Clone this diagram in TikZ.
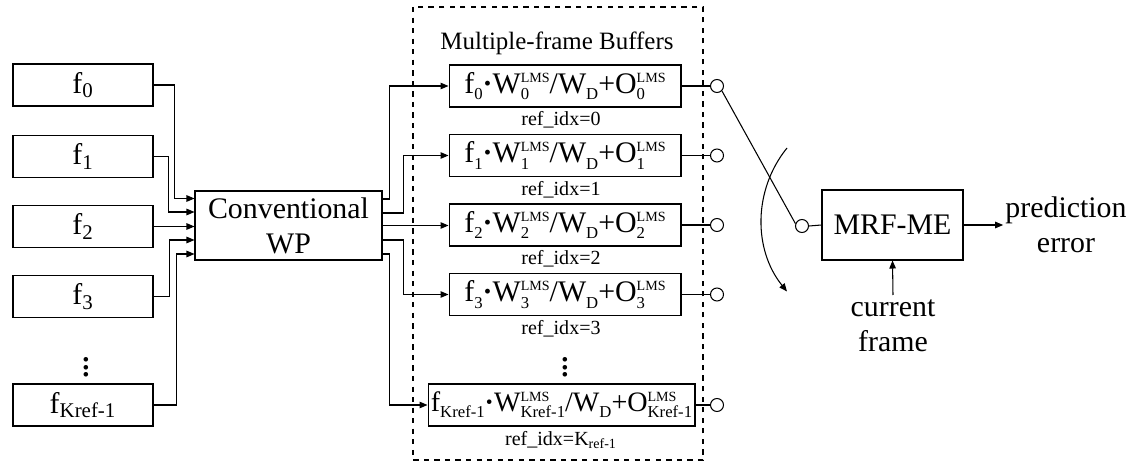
\documentclass[tikz,border=0pt]{standalone}
\usepackage{fontspec}
\setmainfont{Liberation Serif}
\usetikzlibrary{arrows.meta,calc}

% small sub/sup for the buffer formulas
\newcommand\sbs[1]{\raisebox{-0.22em}{\fontsize{9.5}{10}\selectfont #1}}
\newcommand\sps[1]{\raisebox{0.36em}{\fontsize{8}{8}\selectfont #1}}
% stacked sup over sub
\newcommand\supsub[2]{{\setbox0\hbox{\sps{#1}}\setbox2\hbox{\sbs{#2}}%
  \ifdim\wd0>\wd2 \rlap{\box2}\box0\else\rlap{\box0}\box2\fi}}
\newcommand\lms[1]{\supsub{LMS}{#1}}

\begin{document}
\begin{tikzpicture}[x=0.02cm,y=-0.02cm,line width=0.6pt,>={Triangle[length=1.6mm,width=1.3mm]},
  blk/.style={draw,inner sep=0pt,minimum height=0.84cm,font=\fontsize{17}{20}\selectfont},
  fbox/.style={blk,minimum width=2.8cm},
  bufbox/.style={blk,minimum width=4.64cm},
  lbl/.style={font=\fontsize{11.4}{13}\selectfont,inner sep=0pt},
  port/.style={draw,circle,inner sep=0pt,minimum size=0.26cm},
  dots/.style={font=\fontsize{22}{22}\selectfont,inner sep=0pt},
  txt/.style={align=center,font=\fontsize{17}{20}\selectfont}]
  \useasboundingbox (0,0) rectangle (1146,462);

  % input frames
  \node[fbox] (f0) at (83,85) {f\textsubscript{0}};
  \node[fbox] (f1) at (83,156.5) {f\textsubscript{1}};
  \node[fbox] (f2) at (83,226.5) {f\textsubscript{2}};
  \node[fbox] (f3) at (83,296.5) {f\textsubscript{3}};
  \node[dots] (fdots) at (86,362) {$\vdots$};
  \node[fbox] (fK) at (83,405) {f\textsubscript{Kref-1}};

  \node[blk,txt,minimum width=3.74cm,minimum height=1.38cm] (wp) at (288.5,225.5) {Conventional\\WP};

  \draw[->] (f0.east) -- ++(21,0) |- ($(wp.west)+(0,-27)$);
  \draw[->] (f1.east) -- ++(15,0) |- ($(wp.west)+(0,-13.5)$);
  \draw[->] (f2.east) -- (f2.east -| wp.west);
  \draw[->] (f3.east) -- ++(16,0) |- ($(wp.west)+(0,14.5)$);
  \draw[->] (fK.east) -- ++(23,0) |- ($(wp.west)+(0,28.5)$);

  % buffers
  \draw[dashed] (413,7) rectangle (703,460);
  \node[font=\fontsize{14.2}{17}\selectfont] (title) at (557,43) {Multiple-frame Buffers};
  \node[bufbox] (buf0) at (565,86) {f\sbs{0}{\bfseries·}W\lms{0}/W\sbs{D}+O\lms{0}};
  \node[bufbox] (buf1) at (565,155.5) {f\sbs{1}{\bfseries·}W\lms{1}/W\sbs{D}+O\lms{1}};
  \node[bufbox] (buf2) at (565,225) {f\sbs{2}{\bfseries·}W\lms{2}/W\sbs{D}+O\lms{2}};
  \node[bufbox] (buf3) at (565,294.5) {f\sbs{3}{\bfseries·}W\lms{3}/W\sbs{D}+O\lms{3}};
  \node[dots] (bdots) at (565,362) {$\vdots$};
  \node[bufbox,minimum width=5.34cm,font=\fontsize{16}{19}\selectfont] (bufK) at (561.5,405)
    {f\sbs{Kref-1}{\bfseries·}W\lms{Kref-1}/W\sbs{D}+O\lms{Kref-1}};
  \node[lbl] (ref0) at (561,120) {ref\_idx=0};
  \node[lbl] (ref1) at (561,190) {ref\_idx=1};
  \node[lbl] (ref2) at (561,259) {ref\_idx=2};
  \node[lbl] (ref3) at (561,329) {ref\_idx=3};
  \node[lbl] (refK) at (561,440) {ref\_idx=K\textsubscript{ref-1}};

  \draw[->] ($(wp.east)+(0,-26.5)$) -- ++(7,0) |- (buf0.west);
  \draw[->] ($(wp.east)+(0,-12.5)$) -- ++(21,0) |- (buf1.west);
  \draw[->] (wp.east) -- (wp.east -| buf2.west);
  \draw[->] ($(wp.east)+(0,14.5)$) -- ++(21,0) |- (buf3.west);
  \draw[->] ($(wp.east)+(0,28.5)$) -- ++(7,0) |- (bufK.west);

  % switch
  \node[port] (p0) at (717,86) {};
  \node[port] (p1) at (717,155.5) {};
  \node[port] (p2) at (717,225) {};
  \node[port] (p3) at (717,294.5) {};
  \node[port] (pK) at (717,405) {};
  \foreach \i in {0,1,2,3,K}
    \draw (buf\i.east) -- (p\i.west);
  \node[port] (sw) at (802,226) {};
  \draw (p0.-45) -- (sw.160);
  \draw[->] (787,148) arc (219:141:114);

  % motion estimation
  \node[blk,txt,minimum width=2.82cm,minimum height=1.4cm] (mrf) at (892.5,225) {MRF-ME};
  \node[txt,inner sep=1pt] (pred) at (1066,225) {prediction\\error};
  \node[txt,anchor=north,inner sep=2.5pt] (cur) at (893,295) {current\\frame};
  \draw (sw.east) -- (mrf.west);
  \draw[->] (mrf.east) -- (pred.west);
  \draw[->] (cur.north) -- (mrf.south);
\end{tikzpicture}
\end{document}
